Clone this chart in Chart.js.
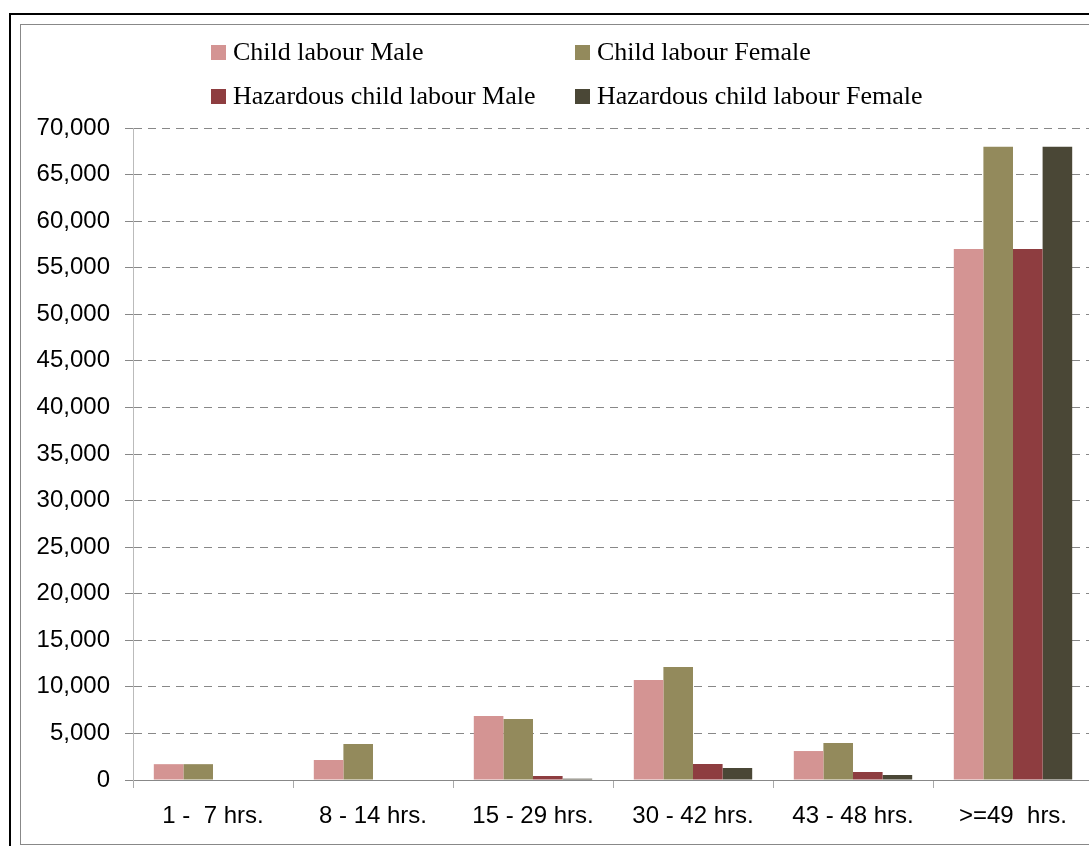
<!DOCTYPE html>
<html>
<head>
<meta charset="utf-8">
<script src="https://cdn.jsdelivr.net/npm/chart.js@4.4.1/dist/chart.umd.min.js"></script>
<style>
  html, body { margin: 0; padding: 0; background: #fff; overflow: hidden; width: 1089px; height: 846px; }
  #outer { position: absolute; left: 9px; top: 13px; width: 1200px; height: 1000px; border: 2px solid #000; box-sizing: border-box; }
  #inner { position: absolute; left: 20px; top: 24px; width: 1200px; height: 821px; border: 1px solid #888; box-sizing: border-box; }
  #wrap { position: absolute; left: 0; top: 0; width: 1100px; height: 846px; }
</style>
</head>
<body>
<div id="outer"></div>
<div id="inner"></div>
<div id="wrap"><canvas id="c" width="1100" height="846"></canvas></div>
<script>
const categories = ["1 -  7 hrs.", "8 - 14 hrs.", "15 - 29 hrs.", "30 - 42 hrs.", "43 - 48 hrs.", ">=49  hrs."];
const childMale = [1700, 2150, 6870, 10740, 3110, 57000];
const childFemale = [1700, 3870, 6550, 12130, 3970, 68000];
const hazMale = [0, 0, 430, 1720, 860, 57000];
const hazFemale = [0, 0, 140, 1290, 540, 68000];
const seriesNames = ["Child labour Male", "Child labour Female", "Hazardous child labour Male", "Hazardous child labour Female"];
const seriesColors = ["#D49493", "#938A5C", "#8E3D40", "#4A4736"];
const yTicks = [0, 5000, 10000, 15000, 20000, 25000, 30000, 35000, 40000, 45000, 50000, 55000, 60000, 65000, 70000];

const seriesData = [childMale, childFemale, hazMale, hazFemale];

const legendPlugin = {
  id: 'gridLegend',
  afterDraw(chart) {
    const ctx = chart.ctx;
    const colX = [211, 575];
    const rowBase = [60, 104];
    ctx.save();
    ctx.font = '26px "Liberation Serif", "Times New Roman", serif';
    ctx.textBaseline = 'alphabetic';
    ctx.textAlign = 'left';
    chart.data.datasets.forEach((ds, i) => {
      const x = colX[i % 2];
      const yb = rowBase[Math.floor(i / 2)];
      ctx.fillStyle = ds.backgroundColor;
      ctx.fillRect(x, yb - 15, 15, 15);
      ctx.fillStyle = '#000';
      ctx.fillText(ds.label, x + 22, yb);
    });
    ctx.restore();
  }
};

new Chart(document.getElementById('c'), {
  type: 'bar',
  data: {
    labels: categories,
    datasets: seriesData.map((d, i) => ({
      label: seriesNames[i],
      data: d,
      backgroundColor: seriesColors[i],
      borderWidth: 0,
      categoryPercentage: 0.74,
      barPercentage: 1.0
    }))
  },
  options: {
    responsive: false,
    devicePixelRatio: 1,
    animation: false,
    layout: { padding: { top: 128, right: 7, bottom: 0, left: 0 } },
    plugins: { legend: { display: false }, tooltip: { enabled: false } },
    scales: {
      x: {
        offset: true,
        grid: { display: true, offset: true, drawOnChartArea: false, drawTicks: true, tickLength: 8, tickColor: '#aaa' },
        border: { display: true, color: '#888', width: 1 },
        ticks: { color: '#000', padding: 14, maxRotation: 0, autoSkip: false, font: { family: '"Liberation Sans", Arial, sans-serif', size: 24 } },
        afterFit(s) { s.height = 66; }
      },
      y: {
        min: 0, max: 70000,
        afterBuildTicks(s) { s.ticks = yTicks.map(v => ({ value: v })); },
        grid: { color: '#888', lineWidth: 1, tickBorderDash: [], tickColor: '#888', tickLength: 8, drawTicks: true },
        border: { display: true, color: '#bbb', width: 1, dash: [8, 6] },
        ticks: {
          color: '#000', padding: 15,
          font: { family: '"Liberation Sans", Arial, sans-serif', size: 24 },
          callback: v => v.toLocaleString('en-US')
        },
        afterFit(s) { s.width = 133; }
      }
    }
  },
  plugins: [legendPlugin]
});
</script>
</body>
</html>
